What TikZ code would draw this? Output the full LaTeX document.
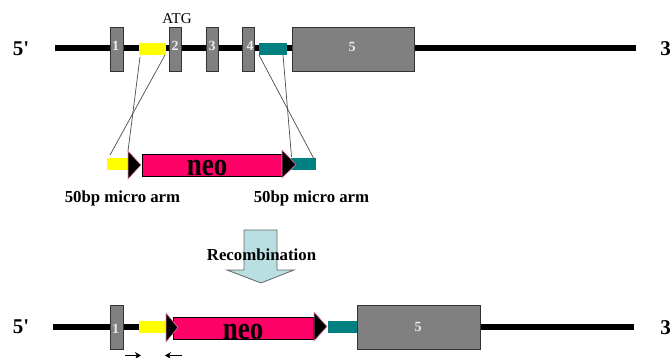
\documentclass[tikz,border=0pt]{standalone}
\usepackage{fontspec}
\usepackage{graphicx}
\setmainfont{Liberation Serif}
\usetikzlibrary{calc,arrows.meta}
\definecolor{exongray}{HTML}{808080}
\definecolor{armyellow}{HTML}{FFFF00}
\definecolor{armteal}{HTML}{008080}
\definecolor{neopink}{HTML}{FF0066}
\definecolor{blockfill}{HTML}{B9DFE3}
\definecolor{tripink}{HTML}{F080A8}
\tikzset{
  x=1pt,y=-1pt,
  backbone/.style={line width=5.5pt,black},
  exon/.style={draw=black!80,line width=0.8pt,fill=exongray,inner sep=0,outer sep=0,minimum height=44pt},
  exontext/.style={text=white!92!black,font=\bfseries\fontsize{14}{14}\selectfont,inner sep=0},
  yarm/.style={fill=armyellow,inner sep=0,outer sep=0,minimum width=#1,minimum height=12pt},
  tarm/.style={fill=armteal,inner sep=0,outer sep=0,minimum width=#1,minimum height=12pt},
  neobox/.style={draw=black,line width=0.8pt,fill=neopink,inner sep=0,outer sep=0,minimum width=140pt,minimum height=22pt},
  neotext/.style={font=\bfseries\fontsize{27}{27}\selectfont,inner sep=0,anchor=base},
  tri/.style={fill=black,draw=tripink,line width=0.6pt,line join=round},
  guide/.style={draw=black!70,line width=0.7pt},
  lab/.style={font=\bfseries\fontsize{16.8}{18}\selectfont,inner sep=0,anchor=base},
  endlab/.style={font=\bfseries\fontsize{21}{21}\selectfont,inner sep=0},
  primer/.style={-{Stealth[length=6pt,width=7pt]},line width=1pt},
}
\begin{document}
\begin{tikzpicture}
\useasboundingbox (0,0) rectangle (672,358);
\clip (0,0) rectangle (672,358);
% top backbone
\coordinate (tl) at (55,48); \coordinate (tr) at (636,48);
\draw[backbone] (tl) -- (tr);
\node[exon,minimum width=13pt] (e1) at (116.5,49) {};
\node[exon,minimum width=12pt] (e2) at (175,49) {};
\node[exon,minimum width=12pt] (e3) at (212,49) {};
\node[exon,minimum width=12pt] (e4) at (248,49) {};
\node[exon,minimum width=122pt] (e5) at (353,49) {};
\node[exontext] (l1) at (115.5,46) {1};
\node[exontext] (l2) at (175,46) {2};
\node[exontext] (l3) at (212,46) {3};
\node[exontext] (l4) at (250,46) {4};
\node[exontext] (l5) at (352,47) {5};
\node[yarm=27pt] (y1) at (152.5,49) {};
\node[tarm=28pt] (t1) at (273,49) {};
\node[inner sep=0,font=\fontsize{15}{15}\selectfont,anchor=base] (atg) at (177,24) {ATG};
\node[endlab] (five1) at (21,49) {5\textquotesingle};
\node[endlab] (three1) at (665.5,49) {3};
% middle construct
\node[yarm=21pt] (y2) at (117.5,164) {};
\node[tarm=25pt] (t2) at (303,164) {};
\node[neobox] (neo1) at (212,165) {};
\node[neotext] (neo1t) at (207,176) {\scalebox{1}[1.2]{neo}};
\coordinate (a1t) at (128,151); \coordinate (a1b) at (128,179); \coordinate (a1p) at (141,165);
\coordinate (a2t) at (282,150); \coordinate (a2b) at (282,178); \coordinate (a2p) at (296,164.5);
\draw[tri] (a1t) -- (a1p) -- (a1b) -- cycle;
\draw[tri] (a2t) -- (a2p) -- (a2b) -- cycle;
% guide lines
\draw[guide] ($(y1.south west)+(1,2)$) -- (a1t);
\draw[guide] ($(y1.south east)+(-1,0)$) -- ($(y2.north west)+(3,-3)$);
\draw[guide] (t1.south west) -- ($(t2.north east)+(-2,0)$);
\draw[guide] ($(t1.south east)+(-4,0)$) -- ($(t2.north west)+(1,-1)$);
\node[lab] (arm1) at (122.5,203) {50bp micro arm};
\node[lab] (arm2) at (311.5,203) {50bp micro arm};
% block arrow
\draw[draw=black!60,line width=0.8pt,fill=blockfill]
  (244,230) -- (277,230) -- (277,270) -- (294,270) -- (261,283) -- (227,270) -- (244,270) -- cycle;
\node[lab] (rec) at (261.5,261) {Recombination};
% bottom backbone
\coordinate (bl) at (53,327); \coordinate (blend) at (140,327);
\coordinate (brstart) at (480,327); \coordinate (br) at (634,327);
\draw[backbone] (bl) -- (blend);
\draw[backbone] (brstart) -- (br);
\node[exon,minimum width=13pt] (be1) at (116.5,327) {};
\node[exon,minimum width=123pt] (be5) at (418.5,327) {};
\node[exontext] (bl1) at (115.5,329) {1};
\node[exontext] (bl5) at (418,327) {5};
\node[yarm=27pt] (y3) at (152.5,327) {};
\node[tarm=29pt] (t3) at (342.5,327) {};
\node[neobox] (neo2) at (243,328) {};
\node[neotext] (neo2t) at (243,339) {\scalebox{1}[1.2]{neo}};
\coordinate (b1t) at (166,313); \coordinate (b1b) at (166,342); \coordinate (b1p) at (178,327.5);
\coordinate (b2t) at (314,312); \coordinate (b2b) at (314,341); \coordinate (b2p) at (327,326.5);
\draw[tri] (b1t) -- (b1p) -- (b1b) -- cycle;
\draw[tri] (b2t) -- (b2p) -- (b2b) -- cycle;
\node[endlab] (five2) at (21,327) {5\textquotesingle};
\node[endlab] (three2) at (665.5,328) {3};
% primers
\coordinate (p1a) at (125,355.5); \coordinate (p1b) at (141,355.5);
\coordinate (p2a) at (182,355.5); \coordinate (p2b) at (165,355.5);
\draw[primer] (p1a) -- (p1b);
\draw[primer] (p2a) -- (p2b);
\end{tikzpicture}
\end{document}
